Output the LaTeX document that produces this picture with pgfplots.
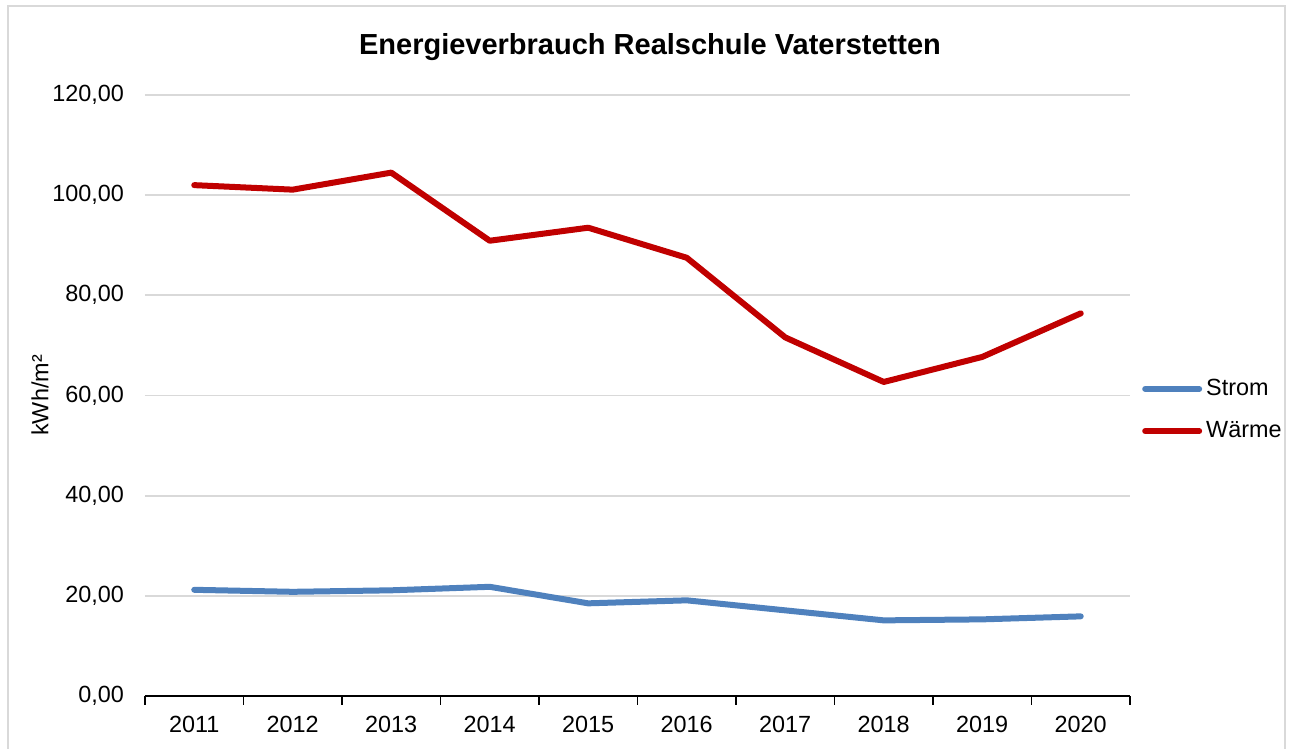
\documentclass[border=0pt]{standalone}
\usepackage{pgfplots}
\pgfplotsset{compat=1.18}
\usepackage{fontspec}
\setmainfont{Liberation Sans}
\definecolor{strom}{HTML}{4F81BD}
\definecolor{waerme}{HTML}{C00000}
\definecolor{gridgray}{HTML}{D9D9D9}
\begin{document}
\begin{tikzpicture}[x=1pt,y=1pt]
\useasboundingbox (-72.5,-26.5) rectangle (573.5,348);
\draw[gridgray, line width=0.9pt] (-68.5,-40) rectangle (570,345);
\node[font=\bfseries\fontsize{14.5}{17}\selectfont] at (252.5,324.5) {Energieverbrauch Realschule Vaterstetten};
\begin{axis}[
  scale only axis,
  width=492.5pt, height=300.5pt,
  xmin=-0.5, xmax=9.5,
  ymin=0, ymax=120,
  ytick={0,20,...,120},
  xtick={-0.5,0.5,...,9.5},
  xticklabels={},
  x tick style={black, line width=0.9pt},
  major tick length=4.5pt,
  tick align=outside,
  extra x ticks={0,1,2,3,4,5,6,7,8,9},
  extra x tick labels={2011,2012,2013,2014,2015,2016,2017,2018,2019,2020},
  extra x tick style={major tick length=0pt, xticklabel style={yshift=-6.5pt}},
  axis x line*=bottom,
  axis y line*=left,
  y axis line style={draw=none},
  x axis line style={black, line width=0.9pt, -},
  ymajorgrids,
  grid style={gridgray, line width=0.9pt},
  y tick style={draw=none},
  /pgf/number format/assume math mode=true,
  yticklabel={\pgfmathprintnumber[fixed, fixed zerofill, precision=2, use comma]{\tick}},
  tick label style={font=\fontsize{11.7}{14}\selectfont},
  yticklabel style={xshift=-2.5pt},
  ylabel={kWh/m²},
  ylabel style={at={(rel axis cs:-0.1066,0.5)}, anchor=center, font=\fontsize{11.7}{14}\selectfont},
  legend style={at={(1.012,0.476)}, anchor=west, draw=none, fill=none, font=\fontsize{11.7}{14}\selectfont, row sep=7.5pt, inner sep=0pt},
  legend cell align=left,
  legend image code/.code={\draw[#1, line cap=round] (0pt,0pt) -- (27pt,0pt);},
  clip=false,
]
\addplot[strom, line width=3pt, line cap=round, line join=round] coordinates {
(0,21.2) (1,20.8) (2,21.1) (3,21.8) (4,18.5) (5,19.1) (6,17.1) (7,15.1) (8,15.3) (9,15.9)};
\addlegendentry{Strom}
\addplot[waerme, line width=3pt, line cap=round, line join=round] coordinates {
(0,102.0) (1,101.1) (2,104.5) (3,90.9) (4,93.5) (5,87.5) (6,71.6) (7,62.7) (8,67.7) (9,76.4)};
\addlegendentry{Wärme}
\end{axis}
\end{tikzpicture}
\end{document}
